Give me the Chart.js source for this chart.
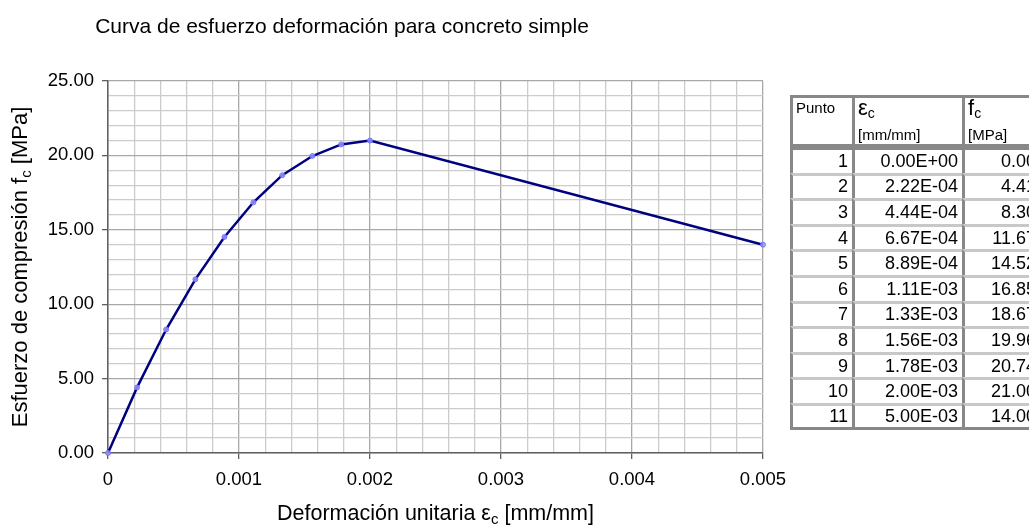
<!DOCTYPE html>
<html>
<head>
<meta charset="utf-8">
<script src="https://cdn.jsdelivr.net/npm/chart.js@4.4.1/dist/chart.umd.min.js"></script>
<style>
  body { margin: 0; background: #fff; font-family: "Liberation Sans", Arial, sans-serif; }
  #contenedor { position: relative; width: 1029px; height: 525px; overflow: hidden; }
  #grafico { position: absolute; left: 0; top: 0; }
  #tabla { position: absolute; left: 790px; top: 95px; border-collapse: separate; border-spacing: 0;
           table-layout: fixed; width: 253px; }
  #tabla td { box-sizing: border-box; border-left: 3px solid #888; border-top: 3px solid #c8c8c8;
              font-size: 18px; text-align: right; padding: 0 4px 0 0; height: 25.6px; line-height: 21px;
              white-space: nowrap; overflow: hidden; }
  #tabla td:last-child { border-right: 3px solid #888; }
  #tabla tr:last-child td { border-bottom: 3px solid #888; }
  #tabla .cab td { border-top: 3px solid #888; text-align: left; vertical-align: top; padding: 0 0 0 3px; height: 51px; }
  #tabla .primera td { border-top: 3px solid #888; }
  .l1 { height: 20px; line-height: 20px; }
  .l2 { margin-top: 8px; height: 18px; line-height: 18px; font-size: 15px; }
  .chico { font-size: 15px; }
  .grande { font-size: 22px; }
  .grande sub { font-size: 14px; vertical-align: -3px; }
</style>
</head>
<body>
<div id="contenedor">
  <canvas id="grafico" width="1029" height="525"></canvas>
  <table id="tabla">
    <colgroup><col style="width:62px"><col style="width:110px"><col style="width:81px"></colgroup>
    <tr class="cab">
      <td><div class="l1 chico">Punto</div></td>
      <td><div class="l1 grande">&epsilon;<sub>c</sub></div><div class="l2">[mm/mm]</div></td>
      <td><div class="l1 grande">f<sub>c</sub></div><div class="l2">[MPa]</div></td>
    </tr>
    <tbody id="filas"></tbody>
  </table>
</div>
<script>
const puntos = [1, 2, 3, 4, 5, 6, 7, 8, 9, 10, 11];
const deformaciones = [0, 0.000222, 0.000444, 0.000667, 0.000889, 0.00111, 0.00133, 0.00156, 0.00178, 0.002, 0.005];
const esfuerzos = [0, 4.41, 8.30, 11.67, 14.52, 16.85, 18.67, 19.96, 20.74, 21.00, 14.00];
const etiquetasX = ['0', '0.001', '0.002', '0.003', '0.004', '0.005'];
const etiquetasY = ['0.00', '5.00', '10.00', '15.00', '20.00', '25.00'];

const titulo = 'Curva de esfuerzo deformación para concreto simple';
const fuente = '"Liberation Sans", Arial, sans-serif';

function formatoCientifico(v) {
  const partes = v.toExponential(2).split('e');
  const exp = parseInt(partes[1], 10);
  const signo = exp < 0 ? '-' : '+';
  return partes[0] + 'E' + signo + String(Math.abs(exp)).padStart(2, '0');
}

// llenar la tabla
const filas = document.getElementById('filas');
puntos.forEach((p, i) => {
  const tr = document.createElement('tr');
  if (i === 0) tr.className = 'primera';
  tr.innerHTML = '<td>' + p + '</td><td>' + formatoCientifico(deformaciones[i]) + '</td><td>' + esfuerzos[i].toFixed(2) + '</td>';
  filas.appendChild(tr);
});

// texto con subindice (ej. f_c), centrado en x
function textoConSubindice(ctx, partes, x, y, tam) {
  const tamSub = Math.round(tam * 0.68);
  let ancho = 0;
  partes.forEach((p, i) => {
    ctx.font = (i % 2 === 1 ? tamSub : tam) + 'px ' + fuente;
    ancho += ctx.measureText(p).width;
  });
  let px = x - ancho / 2;
  partes.forEach((p, i) => {
    const esSub = i % 2 === 1;
    ctx.font = (esSub ? tamSub : tam) + 'px ' + fuente;
    ctx.fillText(p, px, esSub ? y + tam * 0.28 : y);
    px += ctx.measureText(p).width;
  });
}

const textosGrafico = {
  id: 'textosGrafico',
  afterDraw(chart) {
    const ctx = chart.ctx;
    const area = chart.chartArea;
    ctx.save();
    ctx.fillStyle = '#000';
    ctx.textBaseline = 'middle';
    ctx.textAlign = 'center';
    ctx.font = '21px ' + fuente;
    ctx.fillText(titulo, 342, 27);

    ctx.textAlign = 'left';
    textoConSubindice(ctx, ['Deformación unitaria ε', 'c', ' [mm/mm]'], (area.left + area.right) / 2, 514, 21.5);

    ctx.translate(21, (area.top + area.bottom) / 2);
    ctx.rotate(-Math.PI / 2);
    textoConSubindice(ctx, ['Esfuerzo de compresión f', 'c', ' [MPa]'], 0, 0, 22);
    ctx.restore();
  }
};

const colorGrilla = (c) => c.index % 5 === 0 ? '#a8a8a8' : '#cccccc';
const colorMarca = (c) => c.index % 5 === 0 ? '#606060' : 'rgba(0,0,0,0)';

const ctx = document.getElementById('grafico').getContext('2d');
new Chart(ctx, {
  type: 'scatter',
  data: {
    datasets: [{
      data: deformaciones.map((x, i) => ({ x: x, y: esfuerzos[i] })),
      showLine: true,
      borderColor: '#000080',
      borderWidth: 2.5,
      pointRadius: 2.5,
      pointBackgroundColor: 'rgba(150,150,255,0.85)',
      pointBorderColor: 'rgba(110,110,255,0.9)',
      pointBorderWidth: 1,
      clip: false
    }]
  },
  options: {
    responsive: false,
    animation: false,
    layout: { padding: { left: 0, top: 81, right: 266, bottom: 0 } },
    plugins: { legend: { display: false }, tooltip: { enabled: false }, title: { display: false } },
    scales: {
      x: {
        type: 'linear',
        min: 0,
        max: 0.005,
        afterFit: (escala) => { escala.height = 72; },
        ticks: {
          stepSize: 0.0002,
          autoSkip: false,
          maxRotation: 0,
          padding: 10,
          color: '#000',
          font: { family: fuente, size: 18.5 },
          callback: (v, i) => i % 5 === 0 ? etiquetasX[i / 5] : ''
        },
        grid: { color: colorGrilla, tickColor: colorMarca, tickLength: 6, lineWidth: 1.3 },
        border: { color: '#606060', width: 1.5 }
      },
      y: {
        min: 0,
        max: 25,
        afterFit: (escala) => { escala.width = 108; },
        ticks: {
          stepSize: 1,
          autoSkip: false,
          padding: 8,
          color: '#000',
          font: { family: fuente, size: 18.5 },
          callback: (v, i) => i % 5 === 0 ? etiquetasY[i / 5] : ''
        },
        grid: { color: colorGrilla, tickColor: colorMarca, tickLength: 6, lineWidth: 1.3 },
        border: { color: '#606060', width: 1.5 }
      }
    }
  },
  plugins: [textosGrafico]
});
</script>
</body>
</html>
